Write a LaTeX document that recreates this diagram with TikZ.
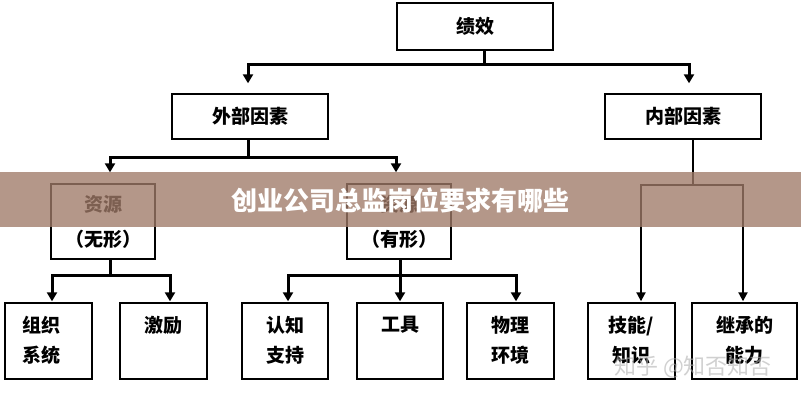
\documentclass[tikz,border=0pt]{standalone}
\usepackage{fontspec}
\newfontfamily\cjk{Noto Sans CJK SC}
\usetikzlibrary{arrows.meta,calc}
\definecolor{bannerc}{RGB}{160,122,104}
\newcommand\mkbox[6]{\node[box, minimum width={#4-#2}, minimum height={#5-#3}] (#1) at ({(#2+#4)/2},{(#3+#5)/2}) {#6};}
\begin{document}
\begin{tikzpicture}[x=1pt,y=-1pt,
  box/.style={draw, line width=1.4pt, inner sep=0pt, align=center,
    font=\cjk\bfseries\fontsize{19}{35}\selectfont},
  lbl/.style={inner sep=0pt, align=center, anchor=north,
    font=\cjk\bfseries\fontsize{19}{30}\selectfont},
  conn/.style={line width=3pt, -{Triangle[width=10pt,length=9pt]}},
  connthin/.style={line width=2pt, -{Triangle[width=9pt,length=9pt]}}]
\useasboundingbox (0,0) rectangle (801,400);
\fill[white] (0,0) rectangle (801,400);
% boxes
\mkbox{jx}{397}{3}{553}{50}{绩效}
\mkbox{wb}{172}{94}{328}{139}{外部因素}
\mkbox{nb}{605}{94}{761}{139}{内部因素}
\mkbox{r1}{51}{184}{155}{259}{资源\\（无形）}
\mkbox{r2}{347}{184}{451}{259}{资源\\（有形）}
\mkbox{b1}{5}{303}{92}{379}{}
\mkbox{b2}{120}{303}{207}{379}{}
\mkbox{b3}{242}{303}{328}{379}{}
\mkbox{b4}{357}{303}{443}{379}{}
\mkbox{b5}{467}{303}{554}{379}{}
\mkbox{b6}{588}{303}{675}{379}{}
\mkbox{b7}{692}{303}{797}{379}{}
\node[lbl] (t1) at ($(b1.north)+(-7,14)$) {组织\\系统};
\node[lbl] (t2) at ($(b2.north)+(0,14)$) {激励};
\node[lbl] (t3) at ($(b3.north)+(0,14)$) {认知\\支持};
\node[lbl] (t4) at ($(b4.north)+(0,14)$) {工具};
\node[lbl] (t5) at ($(b5.north)+(0,14)$) {物理\\环境};
\node[lbl] (t6) at ($(b6.north)+(0,14)$) {技能/\\知识};
\node[lbl] (t7) at ($(b7.north)+(0,14)$) {继承的\\能力};
% connectors
\draw[conn, shorten >=10pt] ([xshift=9pt]jx.south) -- ++(0,14) -| ([xshift=-2pt]wb.north);
\draw[conn, shorten >=10pt] ([xshift=9pt]jx.south) -- ++(0,14) -| ([xshift=6pt]nb.north);
\draw[conn, shorten >=11pt] ([xshift=-2pt]wb.south) -- ++(0,18) -| ([xshift=7pt]r1.north);
\draw[conn, shorten >=11pt] ([xshift=-2pt]wb.south) -- ++(0,18) -| ([xshift=-3pt]r2.north);
\draw[conn, shorten >=1pt] ([xshift=7pt]r1.south) -- ++(0,16) -| ([xshift=3.5pt]b1.north);
\draw[conn, shorten >=1pt] ([xshift=7pt]r1.south) -- ++(0,16) -| ([xshift=6.5pt]b2.north);
\draw[conn, shorten >=1pt] ([xshift=1pt]r2.south) -- ++(0,16) -| ([xshift=3pt]b3.north);
\draw[conn, shorten >=1pt] ([xshift=1pt]r2.south) -- ++(0,16) -| (b4.north);
\draw[conn, shorten >=1pt] ([xshift=1pt]r2.south) -- ++(0,16) -| ([xshift=5.5pt]b5.north);
\draw[connthin, shorten >=1pt] ([xshift=10pt]nb.south) -- ++(0,45) -| ([xshift=9.5pt]b6.north);
\draw[connthin, shorten >=1pt] ([xshift=10pt]nb.south) -- ++(0,45) -| ([xshift=-1.5pt]b7.north);
% banner
\fill[bannerc, opacity=0.78] (0,172) rectangle (801,227);
\node[inner sep=0pt, text=white, font=\cjk\bfseries\fontsize{26}{26}\selectfont] (title) at (400,200) {创业公司总监岗位要求有哪些};
% watermark
\node[inner sep=0pt, text=black!30, opacity=0.6, font=\cjk\fontsize{22}{22}\selectfont] (wm) at (693,367) {知乎 @知否知否};
\end{tikzpicture}
\end{document}
